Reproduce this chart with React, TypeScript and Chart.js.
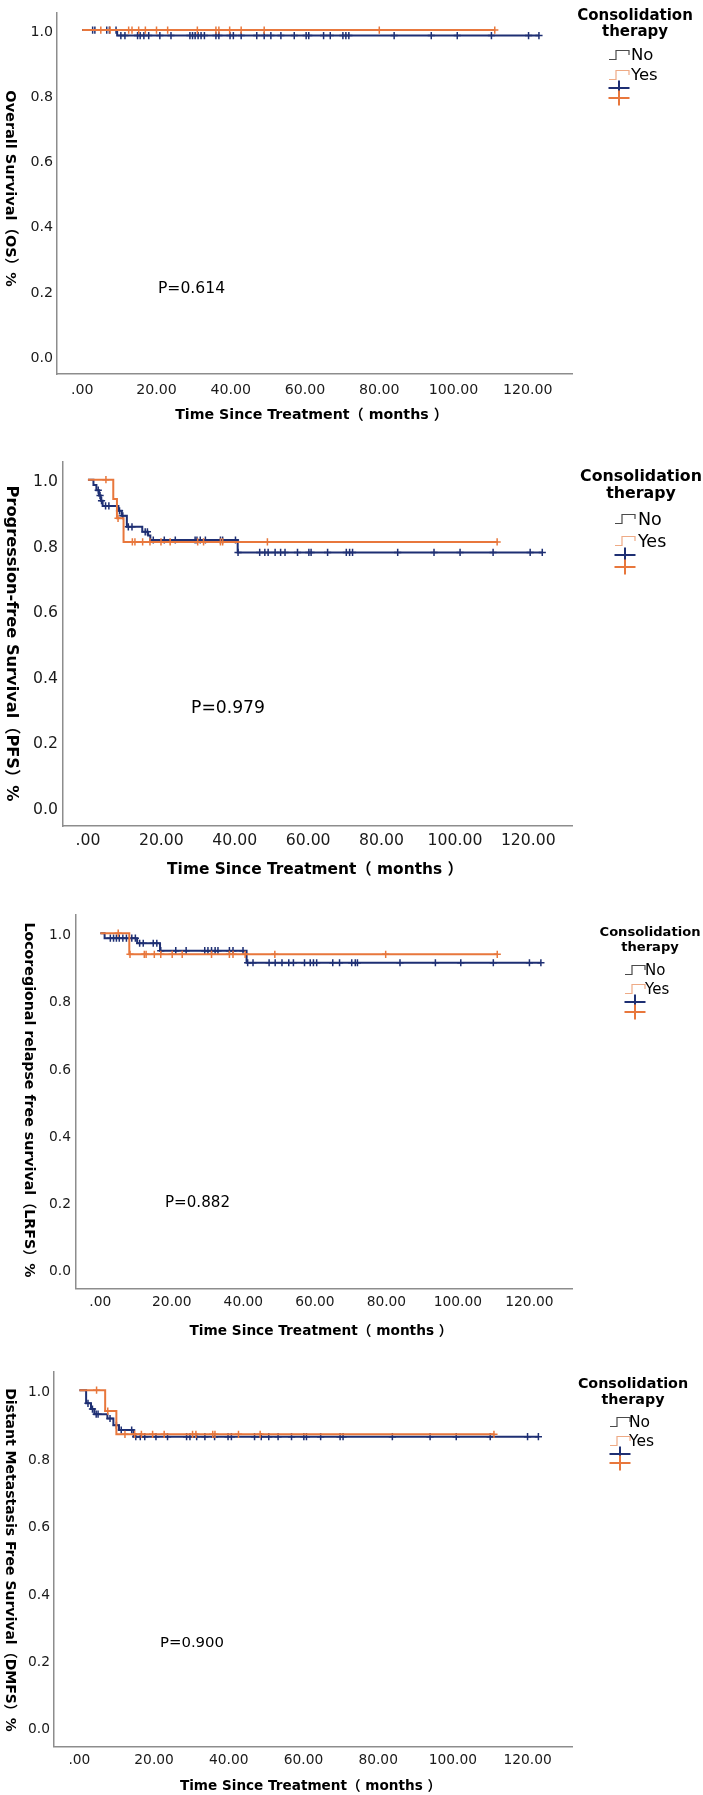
import { useEffect, useRef } from 'react';
import { Chart, registerables } from 'chart.js';

Chart.register(...registerables);

// ---------- shared ticks ----------
const X_TICKS = [0, 20, 40, 60, 80, 100, 120];
const Y_TICKS = [0, 0.2, 0.4, 0.6, 0.8, 1.0];
const X_MIN = -6.8;
const X_MAX = 131.9;
const Y_MIN = -0.057;
const Y_MAX = 1.054;

const BLUE = '#1e2f73';
const ORANGE = '#e8773c';
const FONT = "'DejaVu Sans', 'Noto Sans CJK SC', sans-serif";

// ---------- Overall survival ----------
const osNoTimes = [0, 9.4];
const osNoSurv = [1.0, 0.983];
const osNoEnd = 123.0;
const osNoCensored = [
  2.8, 3.4, 6.6, 7.3, 9.1, 10.4, 11.5, 14.9, 15.6, 16.6, 17.9, 20.9, 23.9, 29.0, 29.7, 30.4,
  31.2, 32.0, 32.9, 36.0, 36.8, 39.8, 40.7, 42.8, 47.0, 49.0, 50.8, 53.5, 57.1, 60.3, 61.0,
  65.0, 66.8, 70.2, 71.0, 71.8, 84.0, 94.0, 101.0, 110.2, 120.2, 123.0,
];
const osYesTimes = [0];
const osYesSurv = [1.0];
const osYesEnd = 111.1;
const osYesCensored = [
  5.0, 7.5, 12.5, 13.4, 15.2, 17.0, 20.0, 23.0, 31.0, 36.0, 36.8, 39.7, 42.8, 49.0, 80.0, 111.1,
];

// ---------- Progression-free survival ----------
const pfsNoTimes = [0, 1.5, 2.3, 3.0, 3.5, 4.0, 8.3, 9.2, 10.6, 14.8, 16.4, 17.0, 40.8];
const pfsNoSurv = [1.0, 0.984, 0.968, 0.952, 0.936, 0.92, 0.905, 0.89, 0.856, 0.841, 0.83, 0.816, 0.778];
const pfsNoEnd = 123.8;
const pfsNoCensored = [
  2.8, 3.3, 3.7, 4.8, 5.7, 8.6, 9.5, 11.0, 12.0, 15.6, 16.2, 17.8, 20.8, 23.8, 29.2, 29.7, 30.6,
  32.0, 36.1, 36.7, 40.2, 40.9, 46.8, 48.2, 49.1, 51.0, 52.5, 53.7, 57.1, 60.2, 60.8, 65.3, 70.4,
  71.3, 72.1, 84.4, 94.3, 101.4, 110.4, 120.5, 123.8,
];
const pfsYesTimes = [0, 6.9, 7.9, 9.7];
const pfsYesSurv = [1.0, 0.941, 0.882, 0.81];
const pfsYesEnd = 111.5;
const pfsYesCensored = [
  4.9, 8.2, 12.1, 12.8, 14.9, 16.9, 19.9, 22.4, 29.9, 31.5, 36.1, 36.7, 48.9, 111.5,
];

// ---------- Locoregional relapse free survival ----------
const lrfsNoTimes = [0, 1.2, 10.3, 16.7, 40.9];
const lrfsNoSurv = [1.0, 0.985, 0.97, 0.948, 0.912];
const lrfsNoEnd = 123.2;
const lrfsNoCensored = [
  2.8, 3.7, 4.5, 5.3, 6.3, 7.3, 8.8, 9.8, 11.0, 12.0, 14.8, 15.8, 16.9, 21.1, 24.0, 29.2, 30.1,
  31.1, 32.1, 32.9, 36.1, 37.1, 39.9, 41.2, 42.7, 47.2, 48.9, 50.8, 52.7, 54.0, 57.1, 58.7, 59.6,
  60.5, 65.0, 66.9, 70.3, 71.3, 71.9, 83.8, 93.7, 100.8, 109.9, 120.0, 123.2,
];
const lrfsYesTimes = [0, 8.1];
const lrfsYesSurv = [1.0, 0.937];
const lrfsYesEnd = 111.0;
const lrfsYesCensored = [
  5.0, 8.3, 12.3, 12.8, 15.1, 16.9, 20.1, 22.9, 31.1, 36.1, 37.1, 40.5, 48.8, 79.8, 111.0,
];

// ---------- Distant metastasis free survival ----------
const dmfsNoTimes = [0, 1.8, 3.1, 4.0, 7.5, 9.1, 10.6, 14.5];
const dmfsNoSurv = [1.0, 0.961, 0.944, 0.929, 0.916, 0.896, 0.882, 0.862];
const dmfsNoEnd = 122.9;
const dmfsNoCensored = [
  2.3, 3.5, 4.5, 5.0, 8.2, 9.9, 11.2, 14.0, 15.1, 16.3, 17.5, 20.5, 23.6, 28.7, 29.6, 31.4, 33.6,
  36.2, 39.8, 40.7, 46.9, 48.7, 50.7, 53.2, 56.8, 60.1, 60.8, 64.6, 69.8, 70.6, 83.8, 93.9, 100.9,
  110.0, 120.0, 122.9,
];
const dmfsYesTimes = [0, 6.9, 9.9];
const dmfsYesSurv = [1.0, 0.938, 0.869];
const dmfsYesEnd = 111.0;
const dmfsYesCensored = [
  4.6, 7.6, 12.2, 14.8, 16.6, 19.6, 22.7, 30.3, 31.2, 35.7, 36.3, 42.6, 48.4, 111.0,
];

type Group = { times: number[]; surv: number[]; end: number; censored: number[] };

type Panel = {
  top: number;
  height: number;
  axisLeft: number;
  axisRight: number;
  axisTop: number;
  axisBottom: number;
  tickSize: number;
  tickPadX: number;
  tickPadY: number;
  yTitle: string;
  yTitleSize: number;
  yTitleX: number;
  yTitleY: number;
  xTitleSize: number;
  xTitleX: number;
  xTitleY: number;
  pText: string;
  pSize: number;
  pX: number;
  pY: number;
  lg: {
    cx: number;
    t1y: number;
    t2y: number;
    titleSize: number;
    iconX: number;
    textX: number;
    noY: number;
    yesY: number;
    blueY: number;
    orangeY: number;
    itemSize: number;
  };
  no: Group;
  yes: Group;
};

const X_TITLE = 'Time Since Treatment（ months ）';

const PANELS: Panel[] = [
  {
    top: 0, height: 430, axisLeft: 57, axisRight: 572, axisTop: 2, axisBottom: 374,
    tickSize: 14.2, tickPadX: 7.5, tickPadY: 4,
    yTitle: 'Overall Survival（OS）%', yTitleSize: 14.5, yTitleX: 10, yTitleY: 188.5,
    xTitleSize: 14.2, xTitleX: 311.5, xTitleY: 415,
    pText: 'P=0.614', pSize: 15.6, pX: 191.5, pY: 289,
    lg: { cx: 635, t1y: 16, t2y: 32, titleSize: 15, iconX: 609, textX: 631, noY: 56, yesY: 76, blueY: 88, orangeY: 98, itemSize: 16.5 },
    no: { times: osNoTimes, surv: osNoSurv, end: osNoEnd, censored: osNoCensored },
    yes: { times: osYesTimes, surv: osYesSurv, end: osYesEnd, censored: osYesCensored },
  },
  {
    top: 430, height: 460, axisLeft: 63, axisRight: 572, axisTop: 32, axisBottom: 396,
    tickSize: 15.7, tickPadX: 5.6, tickPadY: 5,
    yTitle: 'Progression-free Survival（PFS）%', yTitleSize: 16.2, yTitleX: 11, yTitleY: 213.5,
    xTitleSize: 15.4, xTitleX: 315, xTitleY: 440,
    pText: 'P=0.979', pSize: 17.2, pX: 228, pY: 279,
    lg: { cx: 641, t1y: 47, t2y: 64, titleSize: 15.8, iconX: 615, textX: 638, noY: 90, yesY: 112, blueY: 125, orangeY: 137, itemSize: 17.5 },
    no: { times: pfsNoTimes, surv: pfsNoSurv, end: pfsNoEnd, censored: pfsNoCensored },
    yes: { times: pfsYesTimes, surv: pfsYesSurv, end: pfsYesEnd, censored: pfsYesCensored },
  },
  {
    top: 890, height: 455, axisLeft: 76, axisRight: 572, axisTop: 25, axisBottom: 398.5,
    tickSize: 13.8, tickPadX: 5.2, tickPadY: 5,
    yTitle: 'Locoregional relapse free survival（LRFS）%', yTitleSize: 14.2, yTitleX: 29, yTitleY: 210,
    xTitleSize: 13.7, xTitleX: 321, xTitleY: 441,
    pText: 'P=0.882', pSize: 15.1, pX: 197.5, pY: 313,
    lg: { cx: 650, t1y: 43, t2y: 58, titleSize: 13.1, iconX: 625, textX: 645, noY: 81, yesY: 100, blueY: 112, orangeY: 122, itemSize: 15 },
    no: { times: lrfsNoTimes, surv: lrfsNoSurv, end: lrfsNoEnd, censored: lrfsNoCensored },
    yes: { times: lrfsYesTimes, surv: lrfsYesSurv, end: lrfsYesEnd, censored: lrfsYesCensored },
  },
  {
    top: 1345, height: 450, axisLeft: 54, axisRight: 572, axisTop: 27, axisBottom: 401.5,
    tickSize: 13.8, tickPadX: 5.2, tickPadY: 4,
    yTitle: 'Distant Metastasis Free Survival（DMFS）%', yTitleSize: 14.0, yTitleX: 10, yTitleY: 215,
    xTitleSize: 13.6, xTitleX: 310.5, xTitleY: 441,
    pText: 'P=0.900', pSize: 14.9, pX: 192, pY: 298,
    lg: { cx: 633, t1y: 39, t2y: 55, titleSize: 14.3, iconX: 610, textX: 629, noY: 78, yesY: 97, blueY: 109, orangeY: 118, itemSize: 15.5 },
    no: { times: dmfsNoTimes, surv: dmfsNoSurv, end: dmfsNoEnd, censored: dmfsNoCensored },
    yes: { times: dmfsYesTimes, surv: dmfsYesSurv, end: dmfsYesEnd, censored: dmfsYesCensored },
  },
];

// Kaplan-Meier level in effect at time t
function levelAt(g: Group, t: number): number {
  let v = g.surv[0];
  for (let i = 0; i < g.times.length; i++) {
    if (g.times[i] <= t) v = g.surv[i];
  }
  return v;
}

function curvePoints(g: Group) {
  const pts = g.times.map((t, i) => ({ x: t, y: g.surv[i] }));
  pts.push({ x: g.end, y: g.surv[g.surv.length - 1] });
  return pts;
}

function censorPoints(g: Group) {
  return g.censored.map((t) => ({ x: t, y: levelAt(g, t) }));
}

function drawStepIcon(ctx: CanvasRenderingContext2D, x: number, y: number, color: string) {
  ctx.save();
  ctx.strokeStyle = color;
  ctx.lineWidth = 1.2;
  ctx.beginPath();
  ctx.moveTo(x, y + 3.5);
  ctx.lineTo(x + 7, y + 3.5);
  ctx.lineTo(x + 7, y - 5.5);
  ctx.lineTo(x + 20, y - 5.5);
  ctx.lineTo(x + 20, y - 1);
  ctx.stroke();
  ctx.restore();
}

function drawPlus(ctx: CanvasRenderingContext2D, cx: number, cy: number, color: string) {
  ctx.save();
  ctx.strokeStyle = color;
  ctx.lineWidth = 2;
  ctx.beginPath();
  ctx.moveTo(cx - 10.5, cy);
  ctx.lineTo(cx + 10.5, cy);
  ctx.moveTo(cx, cy - 7.5);
  ctx.lineTo(cx, cy + 7.5);
  ctx.stroke();
  ctx.restore();
}

function annotations(p: Panel) {
  return {
    id: 'kmAnnotations',
    afterDraw(chart: Chart) {
      const ctx = chart.ctx;
      ctx.save();
      ctx.fillStyle = '#000';

      // vertical axis title, reading top to bottom
      ctx.save();
      ctx.translate(p.yTitleX, p.yTitleY);
      ctx.rotate(Math.PI / 2);
      ctx.font = `bold ${p.yTitleSize}px ${FONT}`;
      ctx.textAlign = 'center';
      ctx.textBaseline = 'middle';
      ctx.fillText(p.yTitle, 0, 0);
      ctx.restore();

      // horizontal axis title
      ctx.font = `bold ${p.xTitleSize}px ${FONT}`;
      ctx.textAlign = 'center';
      ctx.textBaseline = 'middle';
      ctx.fillText(X_TITLE, p.xTitleX, p.xTitleY);

      // log-rank p value
      ctx.font = `${p.pSize}px ${FONT}`;
      ctx.fillText(p.pText, p.pX, p.pY);

      // legend
      const lg = p.lg;
      ctx.font = `bold ${lg.titleSize}px ${FONT}`;
      ctx.fillText('Consolidation', lg.cx, lg.t1y);
      ctx.fillText('therapy', lg.cx, lg.t2y);

      drawStepIcon(ctx, lg.iconX, lg.noY, '#4a4a4a');
      drawStepIcon(ctx, lg.iconX, lg.yesY, '#eeaa85');
      ctx.font = `${lg.itemSize}px ${FONT}`;
      ctx.textAlign = 'left';
      ctx.fillStyle = '#000';
      ctx.fillText('No', lg.textX, lg.noY);
      ctx.fillText('Yes', lg.textX, lg.yesY);
      drawPlus(ctx, lg.iconX + 10, lg.blueY, BLUE);
      drawPlus(ctx, lg.iconX + 10, lg.orangeY, ORANGE);

      ctx.restore();
    },
  };
}

function KmPanel({ panel }: { panel: Panel }) {
  const ref = useRef<HTMLCanvasElement>(null);

  useEffect(() => {
    if (!ref.current) return;
    const p = panel;
    const tickFont = { family: FONT, size: p.tickSize };
    const chart = new Chart(ref.current, {
      type: 'line',
      data: {
        datasets: [
          {
            label: 'Yes',
            data: curvePoints(p.yes),
            stepped: true,
            borderColor: ORANGE,
            borderWidth: 2,
            pointRadius: 0,
            fill: false,
            order: 0,
          },
          {
            label: 'Yes censored',
            data: censorPoints(p.yes),
            showLine: false,
            pointStyle: 'cross',
            pointRadius: 3.6,
            pointBorderWidth: 1.5,
            pointBorderColor: ORANGE,
            pointBackgroundColor: ORANGE,
            order: 0,
          },
          {
            label: 'No',
            data: curvePoints(p.no),
            stepped: true,
            borderColor: BLUE,
            borderWidth: 2,
            pointRadius: 0,
            fill: false,
            order: 1,
          },
          {
            label: 'No censored',
            data: censorPoints(p.no),
            showLine: false,
            pointStyle: 'cross',
            pointRadius: 3.6,
            pointBorderWidth: 1.5,
            pointBorderColor: BLUE,
            pointBackgroundColor: BLUE,
            order: 1,
          },
        ],
      },
      options: {
        responsive: false,
        animation: false,
        devicePixelRatio: 1,
        layout: {
          padding: { left: 0, top: p.axisTop, right: 703 - p.axisRight, bottom: 0 },
        },
        plugins: { legend: { display: false }, tooltip: { enabled: false }, title: { display: false } },
        scales: {
          x: {
            type: 'linear',
            min: X_MIN,
            max: X_MAX,
            afterBuildTicks: (s: any) => {
              s.ticks = X_TICKS.map((v) => ({ value: v }));
            },
            afterFit: (s: any) => {
              s.height = p.height - p.axisBottom;
            },
            ticks: {
              autoSkip: false,
              maxRotation: 0,
              padding: p.tickPadX,
              color: '#1a1a1a',
              font: tickFont,
              callback: (v: any) => (Number(v) === 0 ? '.00' : Number(v).toFixed(2)),
            },
            grid: { display: true, drawOnChartArea: false, drawTicks: false, color: 'rgba(0,0,0,0)' },
            border: { display: true, color: '#8d8d8d', width: 1.5 },
          },
          y: {
            type: 'linear',
            min: Y_MIN,
            max: Y_MAX,
            afterBuildTicks: (s: any) => {
              s.ticks = Y_TICKS.map((v) => ({ value: v }));
            },
            afterFit: (s: any) => {
              s.width = p.axisLeft;
            },
            ticks: {
              padding: p.tickPadY,
              labelOffset: 2.5,
              color: '#1a1a1a',
              font: tickFont,
              callback: (v: any) => Number(v).toFixed(1),
            },
            grid: { display: true, drawOnChartArea: false, drawTicks: false, color: 'rgba(0,0,0,0)' },
            border: { display: true, color: '#8d8d8d', width: 1.5 },
          },
        },
      },
      plugins: [annotations(p)],
    } as any);
    return () => chart.destroy();
  }, [panel]);

  return (
    <canvas
      ref={ref}
      width={703}
      height={panel.height}
      style={{ position: 'absolute', left: 0, top: panel.top, width: 703, height: panel.height }}
    />
  );
}

export default function App() {
  return (
    <div style={{ position: 'absolute', left: 0, top: 0, width: 703, height: 1795, background: '#fff', overflow: 'hidden' }}>
      {PANELS.map((p, i) => (
        <KmPanel key={i} panel={p} />
      ))}
    </div>
  );
}
